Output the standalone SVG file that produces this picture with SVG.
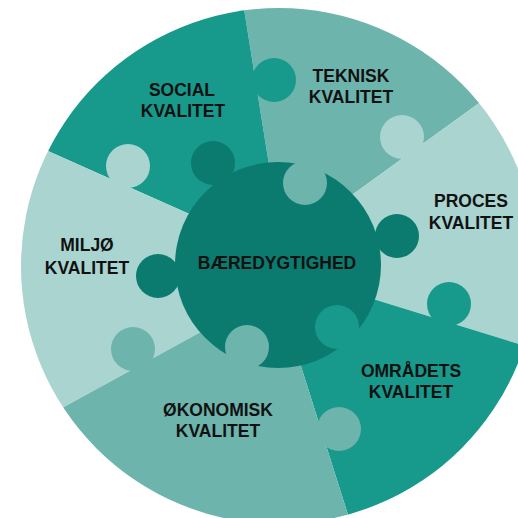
<svg xmlns="http://www.w3.org/2000/svg" width="518" height="518" viewBox="0 0 518 518">
  <style>
    .c1 { fill: #17998b; }
    .c2 { fill: #6db4ad; }
    .c3 { fill: #a9d4d0; }
    .c0 { fill: #0b7b6f; }
    .lbl { font-family: "Liberation Sans", Arial, sans-serif; font-weight: bold; font-size: 17.5px; fill: #111111; text-anchor: middle; }
  </style>
  <defs>
    <clipPath id="outer">
      <circle cx="279" cy="266" r="258"/>
    </clipPath>
    <mask id="centerMask" maskUnits="userSpaceOnUse" x="0" y="0" width="518" height="518">
      <rect x="0" y="0" width="518" height="518" fill="#fff"/>
      <circle cx="305" cy="183" r="22" fill="#000"/>
      <circle cx="337" cy="327" r="22" fill="#000"/>
      <circle cx="247" cy="347" r="22" fill="#000"/>
    </mask>
  </defs>
  <rect x="0" y="0" width="518" height="518" fill="#ffffff"/>

  <g id="connectors"></g>

  <g id="teknisk">
    <path class="c2" clip-path="url(#outer)" d="M281,240 L233,-60 L600,-60 L580,30 L300,232.6 L278,264 Z"/>
    <text class="lbl" x="351" y="82">TEKNISK</text>
    <text class="lbl" x="351" y="103">KVALITET</text>
  </g>

  <g id="social">
    <path class="c1" clip-path="url(#outer)" d="M250,241 L-60,103 L-60,-60 L233,-60 L281,240 L278,264 Z"/>
    <circle class="c1" cx="274" cy="80" r="22"/>
    <text class="lbl" x="182" y="96">SOCIAL</text>
    <text class="lbl" x="183" y="117">KVALITET</text>
  </g>

  <g id="proces">
    <path class="c3" clip-path="url(#outer)" d="M300,232.6 L580,30 L600,30 L600,369 L300,276.6 L278,264 Z"/>
    <circle class="c3" cx="402" cy="137" r="22"/>
    <text class="lbl" x="471" y="207">PROCES</text>
    <text class="lbl" x="471" y="229">KVALITET</text>
  </g>

  <g id="omraadets">
    <path class="c1" clip-path="url(#outer)" d="M300,276.6 L600,369 L600,600 L375,600 L280,300 L278,264 Z"/>
    <circle class="c1" cx="449" cy="304" r="22"/>
    <text class="lbl" x="411" y="377">OMRÅDETS</text>
    <text class="lbl" x="411" y="398">KVALITET</text>
  </g>

  <g id="miljoe">
    <path class="c3" clip-path="url(#outer)" d="M250,305 L-60,475 L-60,103 L250,241 L278,264 Z"/>
    <circle class="c3" cx="128" cy="166" r="22"/>
    <text class="lbl" x="87" y="251">MILJØ</text>
    <text class="lbl" x="87" y="274">KVALITET</text>
  </g>

  <g id="oekonomisk">
    <path class="c2" clip-path="url(#outer)" d="M280,300 L375,600 L-60,600 L-60,475 L250,305 L278,264 Z"/>
    <circle class="c2" cx="339" cy="429" r="22"/>
    <circle class="c2" cx="133" cy="349" r="22"/>
    <text class="lbl" x="218" y="416">ØKONOMISK</text>
    <text class="lbl" x="218" y="437">KVALITET</text>
  </g>

  <g id="baeredygtighed">
    <g mask="url(#centerMask)">
      <circle class="c0" cx="278" cy="265" r="103"/>
      <circle class="c0" cx="213" cy="163" r="22"/>
      <circle class="c0" cx="397" cy="236" r="22"/>
      <circle class="c0" cx="158" cy="276" r="22"/>
    </g>
    <text class="lbl" x="277" y="269">BÆREDYGTIGHED</text>
  </g>
</svg>
